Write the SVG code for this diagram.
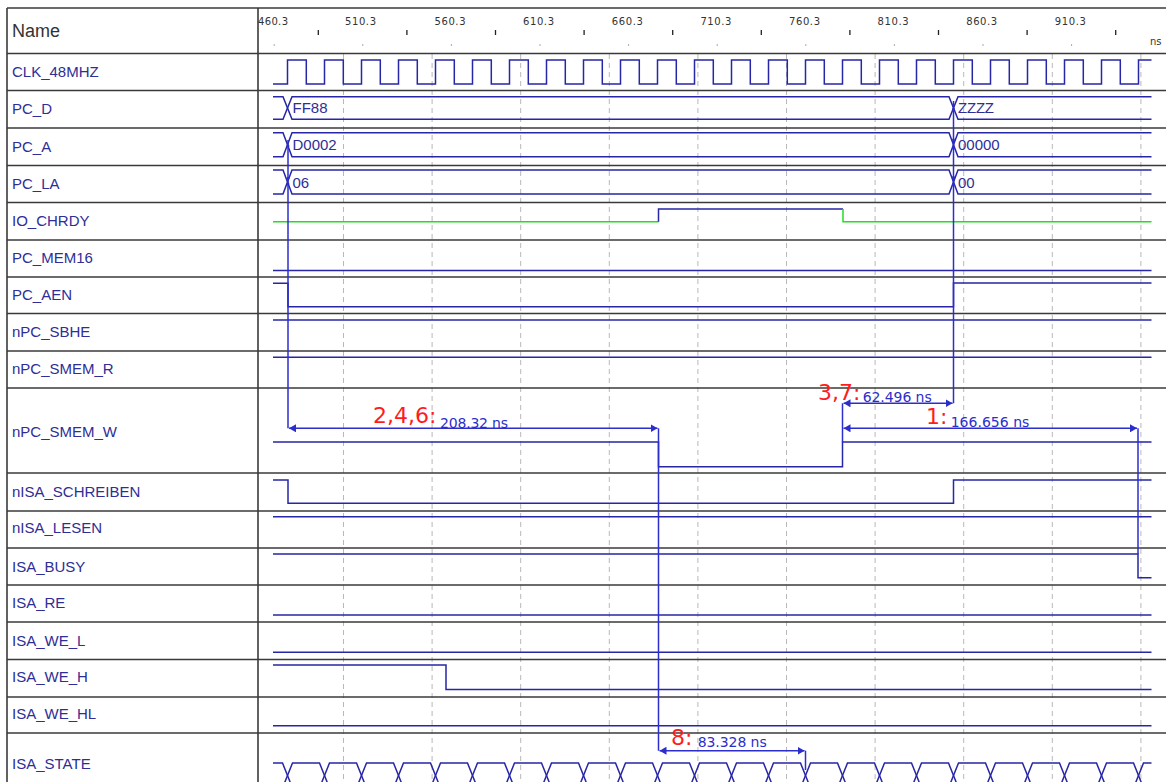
<svg xmlns="http://www.w3.org/2000/svg" width="1166" height="782" viewBox="0 0 1166 782">
<defs>
<style>
.lbl{font-family:"Liberation Sans",Arial,sans-serif;font-size:15px;fill:#2e2e96}
.hdr{font-family:"Liberation Sans",Arial,sans-serif;font-size:18px;fill:#333}
.tk{font-family:"DejaVu Sans",sans-serif;font-size:10px;fill:#333}
.bus{font-family:"Liberation Sans",Arial,sans-serif;font-size:15px;fill:#2e2e96}
.grid{stroke:#b8b8b8;stroke-width:1;stroke-dasharray:5 4}
.rl{stroke:#3a3a3a;stroke-width:1.6}
.sig{fill:none;stroke:#2626a6;stroke-width:1.5}
.zz{fill:none;stroke:#22dd22;stroke-width:1.5}
.cur{fill:none;stroke:#2d2dcc;stroke-width:1.5}
.red{font-family:"DejaVu Sans",sans-serif;font-size:22px;fill:#ff1c1c}
.mv{font-family:"DejaVu Sans",sans-serif;font-size:14px;fill:#2d2dcc}
.dot{fill:#2d2dcc}
</style>
<marker id="ah" viewBox="0 0 7 8" refX="7" refY="4" markerWidth="7" markerHeight="8" markerUnits="userSpaceOnUse" orient="auto-start-reverse"><path d="M0 0 L7 4 L0 8 z" fill="#2d2dcc"/></marker>
</defs>
<rect width="1166" height="782" fill="#fff"/>

<g id="grid">
<line class="grid" x1="343.5" y1="54" x2="343.5" y2="782"/>
<line class="grid" x1="432.1" y1="54" x2="432.1" y2="782"/>
<line class="grid" x1="520.7" y1="54" x2="520.7" y2="782"/>
<line class="grid" x1="609.3" y1="54" x2="609.3" y2="782"/>
<line class="grid" x1="697.9" y1="54" x2="697.9" y2="782"/>
<line class="grid" x1="786.5" y1="54" x2="786.5" y2="782"/>
<line class="grid" x1="875.1" y1="54" x2="875.1" y2="782"/>
<line class="grid" x1="963.7" y1="54" x2="963.7" y2="782"/>
<line class="grid" x1="1052.3" y1="54" x2="1052.3" y2="782"/>
<line class="grid" x1="1140.9" y1="54" x2="1140.9" y2="782"/>
</g>

<g id="frame">
<line class="rl" x1="7" y1="8" x2="1166" y2="8"/>
<line class="rl" x1="7" y1="8" x2="7" y2="782"/>
<line class="rl" x1="258" y1="8" x2="258" y2="782"/>
<line class="rl" x1="7" y1="53.5" x2="1166" y2="53.5"/>
<line class="rl" x1="7" y1="90.5" x2="1166" y2="90.5"/>
<line class="rl" x1="7" y1="128" x2="1166" y2="128"/>
<line class="rl" x1="7" y1="165.5" x2="1166" y2="165.5"/>
<line class="rl" x1="7" y1="202.5" x2="1166" y2="202.5"/>
<line class="rl" x1="7" y1="240" x2="1166" y2="240"/>
<line class="rl" x1="7" y1="277" x2="1166" y2="277"/>
<line class="rl" x1="7" y1="313.5" x2="1166" y2="313.5"/>
<line class="rl" x1="7" y1="351" x2="1166" y2="351"/>
<line class="rl" x1="7" y1="388" x2="1166" y2="388"/>
<line class="rl" x1="7" y1="473" x2="1166" y2="473"/>
<line class="rl" x1="7" y1="511" x2="1166" y2="511"/>
<line class="rl" x1="7" y1="548" x2="1166" y2="548"/>
<line class="rl" x1="7" y1="585" x2="1166" y2="585"/>
<line class="rl" x1="7" y1="622" x2="1166" y2="622"/>
<line class="rl" x1="7" y1="659.5" x2="1166" y2="659.5"/>
<line class="rl" x1="7" y1="697" x2="1166" y2="697"/>
<line class="rl" x1="7" y1="733" x2="1166" y2="733"/>
<text class="hdr" x="12" y="36.5">Name</text>
</g>

<g id="timescale">
<text class="tk" x="258" y="24.5" textLength="30">460.3</text>
<text class="tk" x="345" y="24.5" textLength="31">510.3</text>
<text class="tk" x="434.5" y="24.5" textLength="31">560.3</text>
<text class="tk" x="523" y="24.5" textLength="31">610.3</text>
<text class="tk" x="611.8" y="24.5" textLength="31">660.3</text>
<text class="tk" x="700.4" y="24.5" textLength="31">710.3</text>
<text class="tk" x="789" y="24.5" textLength="31">760.3</text>
<text class="tk" x="877.6" y="24.5" textLength="31">810.3</text>
<text class="tk" x="966.2" y="24.5" textLength="31">860.3</text>
<text class="tk" x="1054.8" y="24.5" textLength="31">910.3</text>
<text class="tk" x="1150" y="45">ns</text>
<path d="M318.3 30V35M406.9 30V35M495.5 30V35M584.1 30V35M672.7 30V35M761.3 30V35M849.9 30V35M938.5 30V35M1027.1 30V35M1115.7 30V35" stroke="#222" stroke-width="1.3" fill="none"/>
<path d="M273.7 45h1M362.3 45h1M450.9 45h1M539.5 45h1M628.1 45h1M716.7 45h1M805.3 45h1M893.9 45h1M982.5 45h1M1071.1 45h1" stroke="#555" stroke-width="1" fill="none"/>
</g>

<g id="sig-CLK_48MHZ">
<text class="lbl" x="12" y="76.5">CLK_48MHZ</text>
<path class="sig" d="M273 84 H287.5 V60 H306.3 V84 H324.5 V60 H343.3 V84 H361.5 V60 H380.3 V84 H398.5 V60 H417.3 V84 H435.5 V60 H454.3 V84 H472.5 V60 H491.3 V84 H509.5 V60 H528.3 V84 H546.5 V60 H565.3 V84 H583.5 V60 H602.3 V84 H620.5 V60 H639.3 V84 H657.5 V60 H676.3 V84 H694.5 V60 H713.3 V84 H731.5 V60 H750.3 V84 H768.5 V60 H787.3 V84 H805.5 V60 H824.3 V84 H842.5 V60 H861.3 V84 H879.5 V60 H898.3 V84 H916.5 V60 H935.3 V84 H953.5 V60 H972.3 V84 H990.5 V60 H1009.3 V84 H1027.5 V60 H1046.3 V84 H1064.5 V60 H1083.3 V84 H1101.5 V60 H1120.3 V84 H1138.5 V60 H1151.5"/>
</g>

<g id="sig-PC_D">
<text class="lbl" x="12" y="113.5">PC_D</text>
<path class="sig" d="M273 96.7 H283 L292 119.3 H949 L958 96.7 H1151.5"/>
<path class="sig" d="M273 119.3 H283 L292 96.7 H949 L958 119.3 H1151.5"/>
<text class="bus" x="292.5" y="113">FF88</text>
<text class="bus" x="958" y="113" textLength="36">ZZZZ</text>
</g>

<g id="sig-PC_A">
<text class="lbl" x="12" y="151.5">PC_A</text>
<path class="sig" d="M273 132.7 H283 L292 156.7 H949 L958 132.7 H1151.5"/>
<path class="sig" d="M273 156.7 H283 L292 132.7 H949 L958 156.7 H1151.5"/>
<text class="bus" x="292.5" y="150">D0002</text>
<text class="bus" x="958" y="150">00000</text>
</g>

<g id="sig-PC_LA">
<text class="lbl" x="12" y="188.5">PC_LA</text>
<path class="sig" d="M273 170 H283 L292 194 H949 L958 170 H1151.5"/>
<path class="sig" d="M273 194 H283 L292 170 H949 L958 194 H1151.5"/>
<text class="bus" x="292.5" y="187.5">06</text>
<text class="bus" x="958" y="187.5">00</text>
</g>

<g id="sig-IO_CHRDY">
<text class="lbl" x="12" y="226">IO_CHRDY</text>
<path class="zz" d="M273 221.7 H658.5"/>
<path class="sig" d="M658.5 221.7 V209 H843"/>
<path class="zz" d="M843 209 V221.7 H1151.5"/>
</g>

<g id="sig-PC_MEM16">
<text class="lbl" x="12" y="263">PC_MEM16</text>
<path class="sig" d="M273 270.5 H1151.5"/>
</g>

<g id="sig-PC_AEN">
<text class="lbl" x="12" y="300">PC_AEN</text>
<path class="sig" d="M273 283.3 H288 V306.7 H953.5 V283 H1151.5"/>
</g>

<g id="sig-nPC_SBHE">
<text class="lbl" x="12" y="336.5">nPC_SBHE</text>
<path class="sig" d="M273 320 H1151.5"/>
</g>

<g id="sig-nPC_SMEM_R">
<text class="lbl" x="12" y="374">nPC_SMEM_R</text>
<path class="sig" d="M273 357.3 H1151.5"/>
</g>

<g id="sig-nPC_SMEM_W">
<text class="lbl" x="12" y="437">nPC_SMEM_W</text>
<path class="sig" d="M273 442 H658.5 V466.7 H842.5 V442 H1151.5"/>
</g>

<g id="sig-nISA_SCHREIBEN">
<text class="lbl" x="12" y="496.5">nISA_SCHREIBEN</text>
<path class="sig" d="M273 480 H288 V503.3 H953.5 V480 H1151.5"/>
</g>

<g id="sig-nISA_LESEN">
<text class="lbl" x="12" y="533.3">nISA_LESEN</text>
<path class="sig" d="M273 516.7 H1151.5"/>
</g>

<g id="sig-ISA_BUSY">
<text class="lbl" x="12" y="571.5">ISA_BUSY</text>
<path class="sig" d="M273 554 H1138 V577.7 H1151.5"/>
</g>

<g id="sig-ISA_RE">
<text class="lbl" x="12" y="608.3">ISA_RE</text>
<path class="sig" d="M273 615 H1151.5"/>
</g>

<g id="sig-ISA_WE_L">
<text class="lbl" x="12" y="645.7">ISA_WE_L</text>
<path class="sig" d="M273 652.3 H1151.5"/>
</g>

<g id="sig-ISA_WE_H">
<text class="lbl" x="12" y="682.3">ISA_WE_H</text>
<path class="sig" d="M273 665 H446 V689.6 H1151.5"/>
</g>

<g id="sig-ISA_WE_HL">
<text class="lbl" x="12" y="719.3">ISA_WE_HL</text>
<path class="sig" d="M273 725.7 H1151.5"/>
</g>

<g id="sig-ISA_STATE">
<text class="lbl" x="12" y="769.3">ISA_STATE</text>
<polyline class="sig" points="273,763 282.5,763 292.5,788 319.5,788 329.5,763 356.5,763 366.5,788 393.5,788 403.5,763 430.5,763 440.5,788 467.5,788 477.5,763 504.5,763 514.5,788 541.5,788 551.5,763 578.5,763 588.5,788 615.5,788 625.5,763 652.5,763 662.5,788 689.5,788 699.5,763 726.5,763 736.5,788 763.5,788 773.5,763 800.5,763 810.5,788 837.5,788 847.5,763 874.5,763 884.5,788 911.5,788 921.5,763 948.5,763 958.5,788 985.5,788 995.5,763 1022.5,763 1032.5,788 1059.5,788 1069.5,763 1096.5,763 1106.5,788 1133.5,788 1143.5,763 1151.5,763"/>
<polyline class="sig" points="273,788 282.5,788 292.5,763 319.5,763 329.5,788 356.5,788 366.5,763 393.5,763 403.5,788 430.5,788 440.5,763 467.5,763 477.5,788 504.5,788 514.5,763 541.5,763 551.5,788 578.5,788 588.5,763 615.5,763 625.5,788 652.5,788 662.5,763 689.5,763 699.5,788 726.5,788 736.5,763 763.5,763 773.5,788 800.5,788 810.5,763 837.5,763 847.5,788 874.5,788 884.5,763 911.5,763 921.5,788 948.5,788 958.5,763 985.5,763 995.5,788 1022.5,788 1032.5,763 1059.5,763 1069.5,788 1096.5,788 1106.5,763 1133.5,763 1143.5,788 1151.5,788"/>
</g>

<g id="connectors">
<path class="cur" d="M288 140 V428.3"/>
<path class="cur" d="M658.5 428.3 V750.7"/>
<path class="cur" d="M805.5 750.7 V770"/>
<path class="cur" d="M842.5 403.3 V442"/>
<path class="cur" d="M953.5 101 V403.3"/>
<path class="cur" d="M1138 428.3 V554"/>
<line class="cur" x1="289" y1="428.3" x2="657.5" y2="428.3" marker-start="url(#ah)" marker-end="url(#ah)"/>
<line class="cur" x1="843.5" y1="403.3" x2="952.5" y2="403.3" stroke-width="2.2" marker-start="url(#ah)" marker-end="url(#ah)"/>
<line class="cur" x1="843.5" y1="428.3" x2="1137" y2="428.3" marker-start="url(#ah)" marker-end="url(#ah)"/>
<line class="cur" x1="659.5" y1="750.7" x2="804.5" y2="750.7" marker-start="url(#ah)" marker-end="url(#ah)"/>
<circle class="dot" cx="288" cy="146" r="1.4"/>
<circle class="dot" cx="288" cy="178.3" r="1.4"/>
<circle class="dot" cx="288" cy="184" r="1.4"/>
<circle class="dot" cx="953.5" cy="109.3" r="1.4"/>
<circle class="dot" cx="953.5" cy="140" r="1.4"/>
<circle class="dot" cx="953.5" cy="148.3" r="1.4"/>
<circle class="dot" cx="953.5" cy="177.3" r="1.4"/>
<circle class="dot" cx="953.5" cy="185" r="1.4"/>
<text class="red" x="373" y="423.3">2,4,6:</text>
<text class="mv" x="440" y="427.5" textLength="68">208.32 ns</text>
<text class="red" x="818" y="400">3,7:</text>
<text class="mv" x="862.7" y="401.7" textLength="69">62.496 ns</text>
<text class="red" x="926" y="424">1:</text>
<text class="mv" x="950.7" y="426.7" textLength="78.6">166.656 ns</text>
<text class="red" x="671" y="745">8:</text>
<text class="mv" x="697.7" y="746.7" textLength="69">83.328 ns</text>
</g>
</svg>
